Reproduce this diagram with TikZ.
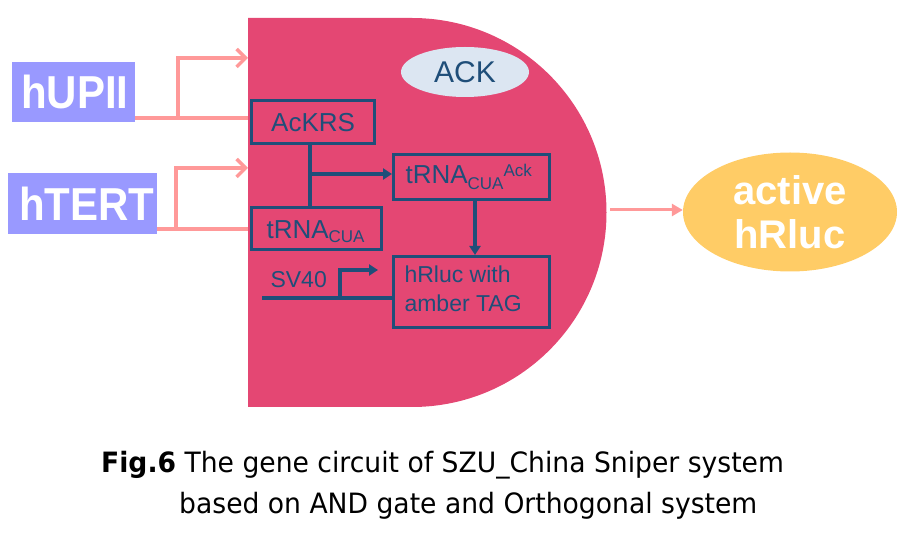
\documentclass[tikz,border=0pt]{standalone}
\usepackage{fontspec}
\setmainfont{Liberation Sans}
\newfontfamily\capfont[FakeStretch=0.95]{DejaVu Sans}
\usetikzlibrary{arrows.meta,shapes.geometric}
\definecolor{gatepink}{RGB}{228,71,115}
\definecolor{lav}{RGB}{153,153,255}
\definecolor{salmon}{RGB}{255,153,153}
\definecolor{navy}{RGB}{31,78,121}
\definecolor{ackfill}{RGB}{220,230,242}
\definecolor{gold}{RGB}{255,204,102}
\tikzset{
  inbox/.style={fill=lav,draw=none,text=white,font=\fontsize{42}{44}\selectfont\bfseries,inner sep=0pt,anchor=north west},
  gbox/.style={draw=navy,line width=3.2pt,text=navy,font=\fontsize{24}{27}\selectfont,inner sep=0pt,anchor=north west,align=left},
  sline/.style={draw=salmon,line width=3.5pt},
  sarrow/.style={sline,-{Straight Barb[length=9pt,width=18pt,line width=3.5pt]}},
  nline/.style={draw=navy,line width=3.2pt},
  narrow/.style={nline,-{Triangle[length=9pt,width=11pt]}},
}
\begin{document}
\begin{tikzpicture}[x=1pt,y=-1pt]
\useasboundingbox (0,0) rectangle (908,534);
% AND gate
\fill[gatepink] (248,18) -- (412,18) arc[start angle=90,end angle=-90,radius=194.5pt] -- (248,407) -- cycle;
% inputs
\node[inbox,minimum width=123pt,minimum height=60pt] (hup) at (12,62) {};
\node[text=white,font=\fontsize{42}{44}\selectfont\bfseries] at ([xshift=1pt]hup.center) {\scalebox{1}[1.1]{hUPII}};
\node[inbox,minimum width=149pt,minimum height=61pt] (hte) at (8,173) {};
\node[text=white,font=\fontsize{42}{44}\selectfont\bfseries] at ([xshift=4pt]hte.center) {\scalebox{1}[1.1]{hTERT}};
\coordinate (g1a) at (248,118);
\coordinate (g1b) at (248,58);
\coordinate (g2a) at (248,229);
\coordinate (g2b) at (248,168);
\coordinate (b1) at (178,118);
\coordinate (b2) at (176,229);
\draw[sline] (hup.east |- g1a) -- (g1a);
\draw[sarrow] (b1) -- (b1 |- g1b) -- (g1b);
\draw[sline] (hte.east |- g2a) -- (g2a);
\draw[sarrow] (b2) -- (b2 |- g2b) -- (g2b);
% ACK
\node[ellipse,fill=ackfill,minimum width=128pt,minimum height=50pt,inner sep=0pt,text=navy,font=\fontsize{30}{32}\selectfont] (ack) at (465,72) {ACK};
% inner boxes
\node[gbox,minimum width=123pt,minimum height=43pt] (ackrs) at (250,99) {};
\node[text=navy,font=\fontsize{26}{28}\selectfont] at (ackrs.center) {AcKRS};
\node[gbox,minimum width=130pt,minimum height=42pt] (tcua) at (250,206) {};
\node[text=navy,font=\fontsize{26}{28}\selectfont,anchor=base west] at (263,239) {tRNA\raisebox{-4pt}{\fontsize{17}{18}\selectfont CUA}};
\node[gbox,minimum width=156pt,minimum height=45pt] (tack) at (392,153) {};
\node[text=navy,font=\fontsize{26}{28}\selectfont,anchor=base west] at (402,184) {tRNA\raisebox{-6pt}{\fontsize{17}{18}\selectfont CUA}\raisebox{7pt}{\fontsize{17}{18}\selectfont Ack}};
\node[gbox,minimum width=156pt,minimum height=71pt] (hrl) at (392,255) {};
\node[text=navy,font=\fontsize{23}{29}\selectfont,align=left,anchor=north west] at (401,262) {hRluc with\\amber TAG};
% navy connectors
\coordinate (j1) at (310,174);
\draw[nline] (ackrs.south -| j1) -- (tcua.north -| j1);
\draw[narrow] (j1) -- (tack.west |- j1);
\draw[narrow] (tack.south -| 475,0) -- (hrl.north -| 475,0);
\coordinate (sv0) at (262,298);
\coordinate (svb) at (340,298);
\coordinate (svt) at (378,270);
\draw[nline] (sv0) -- (hrl.west |- sv0);
\draw[narrow] (svb) -- (svb |- svt) -- (svt);
\node[text=navy,font=\fontsize{23}{25}\selectfont,anchor=base west] (sv40) at (267,288) {SV40};
% output
\node[ellipse,fill=gold,minimum width=214pt,minimum height=119pt,inner sep=0pt,text=white,font=\fontsize{40}{44}\selectfont\bfseries,align=center] (out) at (790,212) {active\\hRluc};
\coordinate (gout) at (610,210);
\draw[draw=salmon,line width=3pt,-{Triangle[length=11pt,width=12pt]}] (gout) -- (out.west |- gout);
% caption
\node[anchor=base west,inner sep=0pt,font=\capfont\fontsize{28}{30}\selectfont] (c1) at (101,473) {\textbf{Fig.6} The gene circuit of SZU\_China Sniper system};
\node[anchor=base west,inner sep=0pt,font=\capfont\fontsize{28}{30}\selectfont] (c2) at (179,513) {based on AND gate and Orthogonal system};
\end{tikzpicture}
\end{document}
